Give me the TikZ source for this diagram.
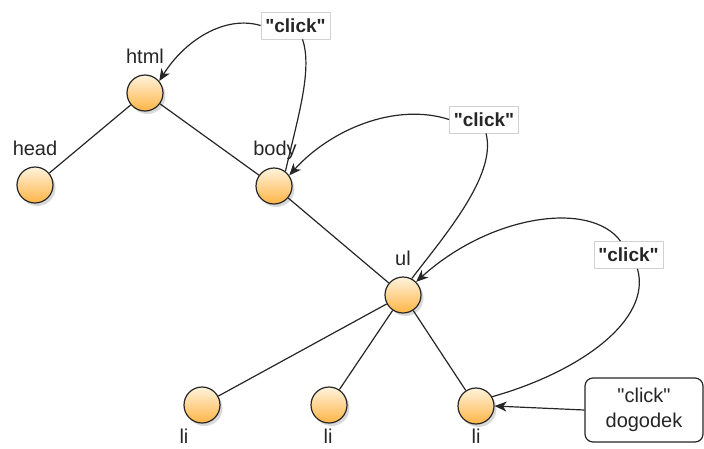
\documentclass[tikz,border=0pt]{standalone}
\usepackage{fontspec}
\setmainfont{Liberation Sans}
\usetikzlibrary{arrows.meta,shadows}
\definecolor{ink}{HTML}{262626}
\definecolor{orangetop}{HTML}{FFF3DC}
\definecolor{orangebot}{HTML}{FFB546}
\newcommand\dq{\textquotedbl}
\tikzset{
  domnode/.style={circle, minimum size=36pt, inner sep=0pt, draw=ink, line width=1.2pt,
    top color=orangetop, bottom color=orangebot,
    drop shadow={shadow xshift=2.5pt, shadow yshift=-3pt, fill=black!25, opacity=0.6}},
  tag/.style={font=\fontsize{20}{22}\selectfont, anchor=base, inner sep=0pt, text=ink},
  evlabel/.style={draw=black!18, fill=white, line width=0.8pt, font=\bfseries\fontsize{19}{22}\selectfont,
    text=ink, minimum width=69pt, minimum height=27pt, inner sep=2pt},
  treeedge/.style={draw=ink, line width=1.2pt},
  bubble/.style={draw=ink, line width=1.2pt},
  bubblearrow/.style={draw=ink, line width=1.2pt, -{Stealth[length=12pt,width=10pt,inset=3.5pt]}},
  notebox/.style={draw=ink, line width=1.2pt, rounded corners=8pt, fill=white, align=center,
    font=\fontsize{20}{25}\selectfont, text=ink, minimum width=118pt, minimum height=64pt, inner sep=2pt}
}
\begin{document}
\begin{tikzpicture}[x=1pt, y=-1pt]
\useasboundingbox (0,0) rectangle (704,448);

% DOM tree nodes
\node[domnode] (html) at (145,93) {};
\node[domnode] (head) at (35,185) {};
\node[domnode] (body) at (274,186) {};
\node[domnode] (ul)   at (403,295) {};
\node[domnode] (li1)  at (202,405) {};
\node[domnode] (li2)  at (329,405) {};
\node[domnode] (li3)  at (476,406) {};

% element names
\node[tag] (thtml) at (145,63)  {html};
\node[tag] (thead) at (35,155)  {head};
\node[tag] (tbody) at (275,155) {body};
\node[tag] (tul)   at (403,265) {ul};
\node[tag] (tli1)  at (184,443) {li};
\node[tag] (tli2)  at (328,443) {li};
\node[tag] (tli3)  at (476,443) {li};

% tree structure
\draw[treeedge] (html) -- (head);
\draw[treeedge] (html) -- (body);
\draw[treeedge] (body) -- (ul);
\draw[treeedge] (ul) -- (li1);
\draw[treeedge] (ul) -- (li2);
\draw[treeedge] (ul) -- (li3);

% event labels on the bubbling paths
\node[evlabel] (c1) at (295.5,25.5)  {\dq click\dq};
\node[evlabel] (c2) at (484,119.5)   {\dq click\dq};
\node[evlabel] (c3) at (628.5,255)   {\dq click\dq};

% bubbling: body -> html
\draw[bubble] (body.52) .. controls (297,120) and (313,70) .. ([xshift=7pt]c1.south);
\draw[bubblearrow] (c1.west) .. controls (225,15) and (185,40) .. (html.40);

% bubbling: ul -> body
\draw[bubble] (ul.62) .. controls (445,235) and (497,175) .. ([xshift=2pt]c2.south);
\draw[bubblearrow] (c2.west) .. controls (395,102) and (330,130) .. (body.35);

% bubbling: li -> ul
\draw[bubble] (li3.30) .. controls (580,372) and (652,320) .. ([xshift=9pt]c3.south);
\draw[bubblearrow] ([xshift=-8pt]c3.north) .. controls (590,200) and (490,215) .. (ul.45);

% event source
\node[notebox] (dog) at (644,410) {\dq click\dq\\dogodek};
\draw[bubblearrow] (dog.west) -- (li3.east);
\end{tikzpicture}
\end{document}
